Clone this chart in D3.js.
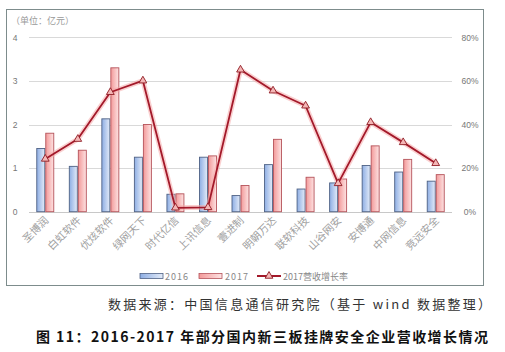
<!DOCTYPE html>
<html>
<head>
<meta charset="utf-8">
<script src="https://cdn.jsdelivr.net/npm/d3@7"></script>
<style>
  body { margin: 0; background: #fff; }
  svg { display: block; font-family: "Noto Sans CJK SC", "Noto Sans", sans-serif; }
</style>
</head>
<body>
<svg width="505" height="352"></svg>
<script>
// ---- data ----
const companies = ['圣博润', '白虹软件', '优炫软件', '绿网天下', '时代亿信', '上讯信息', '壹进制',
                   '明朝万达', '联软科技', '山谷网安', '安博通', '中网信息', '竞远安全'];
const rev2016 = [1.45, 1.04, 2.13, 1.25, 0.40, 1.25, 0.37, 1.08, 0.52, 0.66, 1.06, 0.91, 0.70];
const rev2017 = [1.80, 1.41, 3.30, 2.00, 0.41, 1.28, 0.60, 1.66, 0.79, 0.75, 1.51, 1.20, 0.85];
const growth  = [24.2, 33.3, 54.8, 60.1, 1.8, 2.0, 65.1, 55.5, 48.6, 13.0, 41.0, 31.8, 22.2];
const leftTicks = [0, 1, 2, 3, 4];
const rightTicks = [0, 20, 40, 60, 80];

const svg = d3.select('svg');

// outer frame
svg.append('rect')
    .attr('x', 6.5).attr('y', 9.5)
    .attr('width', 477).attr('height', 276)
    .attr('fill', 'none')
    .attr('stroke', '#7d8c8c')
    .attr('stroke-width', 1);

// gradients
const defs = svg.append('defs');
const gBlue = defs.append('linearGradient').attr('id', 'gBlue');
gBlue.append('stop').attr('offset', '0%').attr('stop-color', '#8eaee4');
gBlue.append('stop').attr('offset', '100%').attr('stop-color', '#e3ebf8');
const gPink = defs.append('linearGradient').attr('id', 'gPink');
gPink.append('stop').attr('offset', '0%').attr('stop-color', '#f39a9a');
gPink.append('stop').attr('offset', '100%').attr('stop-color', '#fde3e3');

// scales
const plotL = 29, plotR = 452;
const x = d3.scaleBand().domain(companies).range([plotL, plotR]).padding(0);
const y = d3.scaleLinear().domain([0, 4]).range([211.7, 37.3]);
const y2 = d3.scaleLinear().domain([0, 80]).range([211.7, 37.3]);
const cx = d => x(d) + x.bandwidth() / 2;

// gridlines
svg.append('g')
    .selectAll('line')
    .data(leftTicks)
    .join('line')
    .attr('x1', plotL).attr('x2', plotR)
    .attr('y1', d => Math.round(y(d)) + 0.5)
    .attr('y2', d => Math.round(y(d)) + 0.5)
    .attr('stroke', d => d === 0 ? '#c8c8c8' : '#d9d9d9')
    .attr('stroke-width', 1);

// left axis labels
const leftAxis = svg.append('g')
    .attr('transform', `translate(${plotL - 11},0)`)
    .call(d3.axisLeft(y).tickValues(leftTicks).tickSize(0).tickPadding(0)
        .tickFormat(d3.format('d')));
leftAxis.select('.domain').remove();
leftAxis.selectAll('text')
    .attr('fill', '#777').attr('font-size', 8.5)
    .attr('text-anchor', 'middle').attr('x', -3);

// right axis labels
const rightAxis = svg.append('g')
    .attr('transform', `translate(${plotR + 18},0)`)
    .call(d3.axisRight(y2).tickValues(rightTicks).tickSize(0).tickPadding(0)
        .tickFormat(d => d + '%'));
rightAxis.select('.domain').remove();
rightAxis.selectAll('text')
    .attr('fill', '#777').attr('font-size', 8.5)
    .attr('text-anchor', 'middle').attr('x', 0);

// unit label
svg.append('text')
    .attr('x', 11).attr('y', 24)
    .attr('font-size', 9).attr('fill', '#999')
    .text('（单位：亿元）');

// bars
const barW = 8;
const bars = svg.append('g');
bars.selectAll('rect.b16')
    .data(companies)
    .join('rect')
    .attr('class', 'b16')
    .attr('x', d => cx(d) - barW - 0.5)
    .attr('y', (d, i) => y(rev2016[i]))
    .attr('width', barW)
    .attr('height', (d, i) => y(0) - y(rev2016[i]))
    .attr('fill', 'url(#gBlue)')
    .attr('stroke', '#4f6285')
    .attr('stroke-width', 0.9);
bars.selectAll('rect.b17')
    .data(companies)
    .join('rect')
    .attr('class', 'b17')
    .attr('x', d => cx(d) + 0.5)
    .attr('y', (d, i) => y(rev2017[i]))
    .attr('width', barW)
    .attr('height', (d, i) => y(0) - y(rev2017[i]))
    .attr('fill', 'url(#gPink)')
    .attr('stroke', '#b5535a')
    .attr('stroke-width', 0.9);

// growth line with glow
const line = d3.line()
    .x((d, i) => cx(companies[i]))
    .y(d => y2(d));
svg.append('path')
    .datum(growth)
    .attr('d', line)
    .attr('fill', 'none')
    .attr('stroke', '#f5a9a9')
    .attr('stroke-width', 5)
    .attr('stroke-opacity', 0.55)
    .attr('stroke-linejoin', 'round');
svg.append('path')
    .datum(growth)
    .attr('d', line)
    .attr('fill', 'none')
    .attr('stroke', '#a3192a')
    .attr('stroke-width', 1.8)
    .attr('stroke-linejoin', 'round');

const tri = d3.symbol().type(d3.symbolTriangle).size(26);
svg.append('g')
    .selectAll('path')
    .data(growth)
    .join('path')
    .attr('d', tri)
    .attr('transform', (d, i) => `translate(${cx(companies[i])},${y2(d)})`)
    .attr('fill', '#f4b6b6')
    .attr('stroke', '#8e1b22')
    .attr('stroke-width', 0.9);

// category labels, rotated
svg.append('g')
    .selectAll('text')
    .data(companies)
    .join('text')
    .attr('transform', d => `translate(${cx(d) + 4},${221}) rotate(-45)`)
    .attr('text-anchor', 'end')
    .attr('font-size', 10.5)
    .attr('fill', '#a0a0a0')
    .text(d => d);

// legend
const legY = 276;
const leg = svg.append('g').attr('font-size', 9).attr('fill', '#888');
leg.append('rect').attr('x', 140).attr('y', legY - 2.5).attr('width', 23).attr('height', 5)
    .attr('fill', 'url(#gBlue)').attr('stroke', '#4f6285').attr('stroke-width', 0.8);
leg.append('text').attr('x', 165).attr('y', legY + 3.5).attr('letter-spacing', 1).text('2016');
leg.append('rect').attr('x', 199).attr('y', legY - 2.5).attr('width', 23).attr('height', 5)
    .attr('fill', 'url(#gPink)').attr('stroke', '#b5535a').attr('stroke-width', 0.8);
leg.append('text').attr('x', 225).attr('y', legY + 3.5).attr('letter-spacing', 1).text('2017');
leg.append('line').attr('x1', 257).attr('x2', 281).attr('y1', legY).attr('y2', legY)
    .attr('stroke', '#a3192a').attr('stroke-width', 2);
leg.append('path').attr('d', tri).attr('transform', `translate(269,${legY})`)
    .attr('fill', '#f4b6b6').attr('stroke', '#8e1b22').attr('stroke-width', 0.9);
leg.append('text').attr('x', 283).attr('y', legY + 3.5).text('2017营收增长率');

// source note
svg.append('text')
    .attr('x', 108).attr('y', 309)
    .attr('font-size', 13)
    .attr('fill', '#333')
    .attr('textLength', 383)
    .attr('lengthAdjust', 'spacing')
    .text('数据来源：中国信息通信研究院（基于 wind 数据整理）');

// figure caption
svg.append('text')
    .attr('x', 36).attr('y', 342)
    .attr('font-size', 14)
    .attr('font-weight', 'bold')
    .attr('fill', '#111')
    .attr('textLength', 452)
    .attr('lengthAdjust', 'spacing')
    .text('图 11：2016-2017 年部分国内新三板挂牌安全企业营收增长情况');
</script>
</body>
</html>
